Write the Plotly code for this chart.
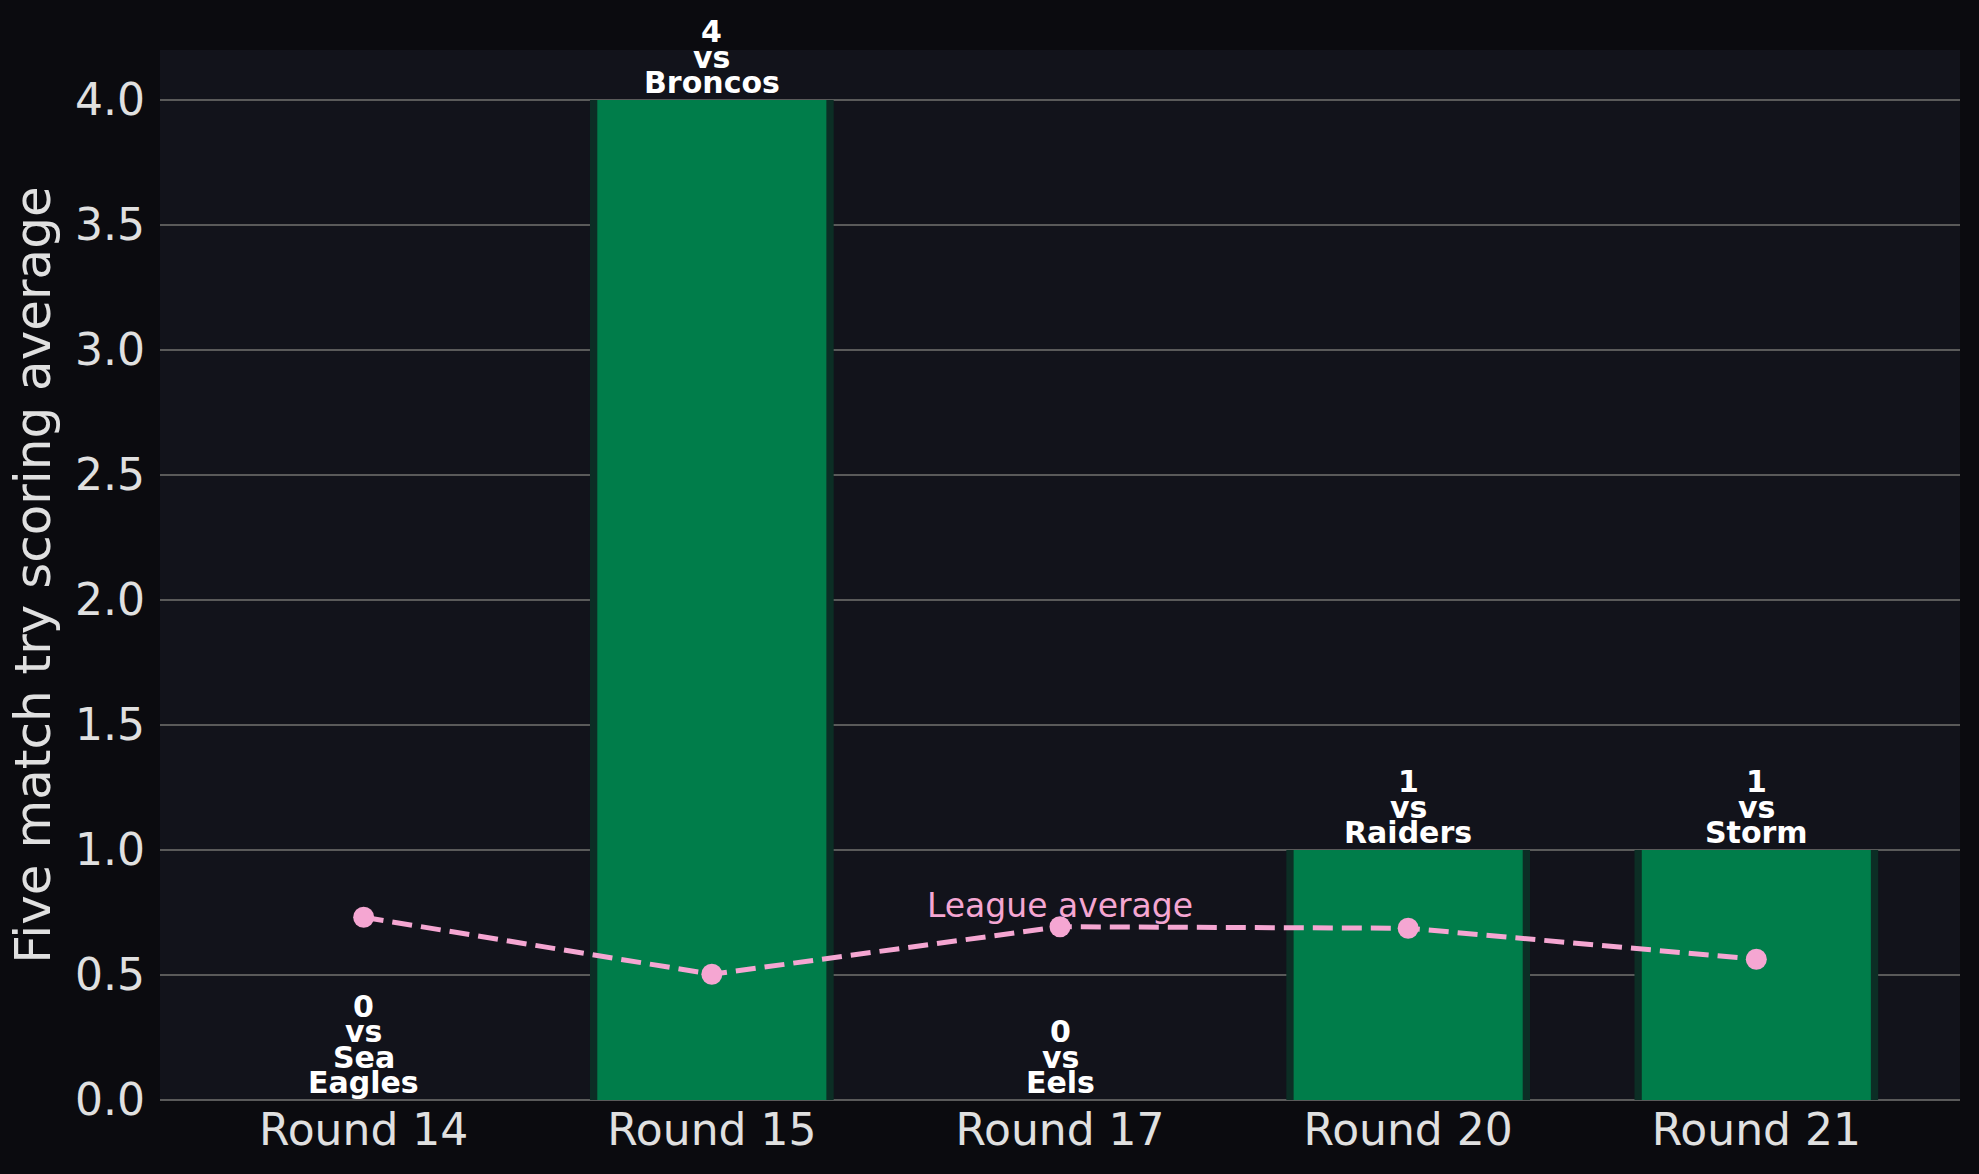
import plotly.graph_objects as go

# Data
rounds = ["Round 14", "Round 15", "Round 17", "Round 20", "Round 21"]
tries = [0, 4, 0, 1, 1]
opponents = ["Sea Eagles", "Broncos", "Eels", "Raiders", "Storm"]
league_avg = [0.731, 0.503, 0.693, 0.687, 0.563]

FONT = "DejaVu Sans"
PINK = "#f5a6d2"
GREEN = "#007d4a"
EDGE = "#0c2e25"

fig = go.Figure()

# darker, slightly wider bar behind the green one gives the edge look
fig.add_trace(go.Bar(x=rounds, y=tries, width=0.7, marker=dict(color=EDGE, line=dict(width=0)),
                     showlegend=False, hoverinfo="skip"))
fig.add_trace(go.Bar(x=rounds, y=tries, width=0.658, marker=dict(color=GREEN, line=dict(width=0)),
                     showlegend=False, name="Tries"))

fig.add_trace(go.Scatter(x=rounds, y=league_avg, mode="lines+markers", name="League average",
                         line=dict(color=PINK, width=5, dash="20px,9px"),
                         marker=dict(color=PINK, size=21), showlegend=False))

# stacked labels above each bar, one annotation per line to keep the tight spacing
annotations = []
for rnd, val, opp in zip(rounds, tries, opponents):
    lines = [str(val), "vs"] + opp.split()
    for k, txt in enumerate(reversed(lines)):
        annotations.append(dict(x=rnd, y=val, text=f"<b>{txt}</b>", showarrow=False,
                                yanchor="bottom", xanchor="center", yshift=k * 25.3 - 2,
                                font=dict(family=FONT, size=30, color="white")))

annotations.append(dict(x=rounds[2], y=league_avg[2], text="League average", showarrow=False,
                        yanchor="bottom", xanchor="center", yshift=0,
                        font=dict(family=FONT, size=33, color=PINK)))

fig.update_layout(
    width=1979, height=1174,
    paper_bgcolor="#0b0b0f",
    plot_bgcolor="#12131b",
    barmode="overlay",
    margin=dict(l=160, r=19, t=50, b=74),
    font=dict(family=FONT, color="#e0e0e0"),
    annotations=annotations,
    xaxis=dict(range=[-0.585, 4.585], showgrid=False, zeroline=False, showline=False,
               ticks="", tickfont=dict(size=44, color="#e0e0e0")),
    yaxis=dict(range=[0, 4.2], dtick=0.5, tickformat=".1f", showgrid=True,
               gridcolor="#5a5a5a", gridwidth=2, zeroline=True, zerolinecolor="#5a5a5a",
               zerolinewidth=2, ticks="", ticklabelstandoff=14,
               tickfont=dict(size=44, color="#e0e0e0"),
               title=dict(text="Five match try scoring average", standoff=8,
                          font=dict(size=50, color="#e0e0e0"))),
)

# drop the browser's default page margin so the figure sits at the window corner
fig.write_html("out.html", config={"displayModeBar": False},
               post_script="document.body.style.margin='0';")
